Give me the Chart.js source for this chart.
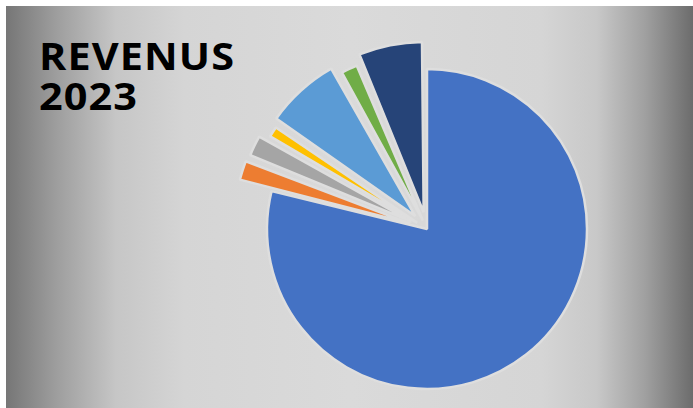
<!DOCTYPE html>
<html lang="fr">
<head>
  <meta charset="UTF-8" />
  <title>Revenus 2023</title>
  <script src="https://cdn.jsdelivr.net/npm/chart.js"></script>
  <style>
    * { margin: 0; padding: 0; box-sizing: border-box; }
    html, body { width: 693px; height: 408px; background: #fff; overflow: hidden; }

    .slide {
      position: absolute;
      left: 6px; top: 6px;
      width: 687px; height: 402px;
      background: linear-gradient(to right,
        #767676 0%, #9c9c9c 7%, #c6c6c6 16%, #d5d5d5 26%,
        #dadada 50%, #d5d5d5 78%, #c8c8c8 86%, #a0a0a0 93%, #6c6c6c 100%);
    }

    .title {
      position: absolute;
      left: 39px; top: 35px;
      font-family: 'Open Sans', sans-serif;
      font-weight: 700;
      font-size: 38px;
      line-height: 40px;
      letter-spacing: 1px;
      color: #000;
      transform: scaleX(1.09);
      transform-origin: left top;
    }

    .chart-box {
      position: absolute;
      left: 0; top: 0;
      width: 693px; height: 408px;
    }
  </style>
</head>
<body>
<div class="slide"></div>
<div class="title">REVENUS<br>2023</div>
<div class="chart-box"><canvas id="pie"></canvas></div>

<script>
  // share of 2023 revenue (%), clockwise from 12 o'clock
  const labels = ["Catégorie A", "Catégorie B", "Catégorie C", "Catégorie D", "Catégorie E", "Catégorie F", "Catégorie G"];
  const values = [78.8, 2.2, 2.3, 1.3, 7.3, 1.8, 6.3];

  const sliceColors = ["#4472c4", "#ed7d31", "#a5a5a5", "#ffc000", "#5b9bd5", "#70ad47", "#264478"];
  const sliceOffsets = [0, 72, 68, 46, 70, 38, 68]; // exploded slices

  new Chart(document.getElementById("pie"), {
    type: "pie",
    data: {
      labels,
      datasets: [{
        data: values,
        backgroundColor: sliceColors,
        offset: sliceOffsets,
        borderColor: "#dedede",
        borderWidth: 2.5,
        hoverOffset: 0
      }]
    },
    options: {
      responsive: true,
      maintainAspectRatio: false,
      animation: false,
      radius: 160,
      layout: { padding: { left: 161, right: 0, top: 50, bottom: 0 } },
      plugins: {
        legend: { display: false },
        tooltip: { enabled: false }
      }
    }
  });
</script>
</body>
</html>
